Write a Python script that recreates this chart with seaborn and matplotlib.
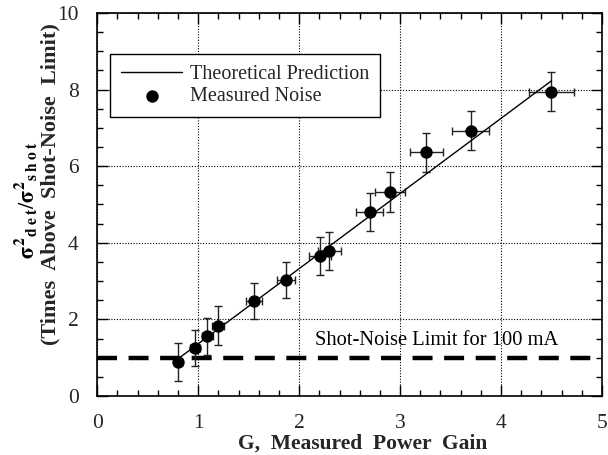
import matplotlib
matplotlib.use("Agg")
import matplotlib.pyplot as plt
import seaborn as sns
import pandas as pd
from matplotlib.ticker import MultipleLocator

# ---- data ----
gain = [0.80, 0.97, 1.09, 1.20, 1.55, 1.87, 2.21, 2.30, 2.70, 2.90, 3.26, 3.70, 4.50]
noise = [0.89, 1.25, 1.56, 1.84, 2.48, 3.03, 3.66, 3.78, 4.80, 5.33, 6.36, 6.93, 7.95]
gain_err = [0.04, 0.05, 0.055, 0.06, 0.078, 0.093, 0.11, 0.115, 0.135, 0.145, 0.163, 0.185, 0.225]
noise_err = [0.50, 0.48, 0.48, 0.50, 0.48, 0.48, 0.49, 0.50, 0.50, 0.52, 0.50, 0.50, 0.50]
theory_x = [0.80, 4.50]
theory_y = [0.97, 8.23]
shot_limit = 1.0

sns.set_theme(style="ticks")
plt.rcParams["font.family"] = ["Liberation Serif", "DejaVu Serif"]
plt.rcParams["mathtext.fontset"] = "stix"

fig = plt.figure(figsize=(6.08, 4.55), dpi=100)
ax = fig.add_axes([0.16, 0.1297, 0.83, 0.8417])

meas = pd.DataFrame({"G": gain, "N": noise})
theo = pd.DataFrame({"G": theory_x, "N": theory_y})

ax.axhline(shot_limit, color="black", lw=3.2, dashes=(4.5, 2.6), zorder=2)
ax.errorbar(gain, noise, xerr=gain_err, yerr=noise_err, fmt="none",
            ecolor="#222222", elinewidth=1.0, capsize=2.6, capthick=1.0, zorder=3)
sns.lineplot(data=theo, x="G", y="N", ax=ax, color="black", lw=1.0,
             label="Theoretical Prediction", zorder=4)
sns.scatterplot(data=meas, x="G", y="N", ax=ax, color="black", s=80,
                edgecolor="black", linewidth=0, label="Measured Noise", zorder=5)

ax.set_xlim(0, 5)
ax.set_ylim(0, 10)
ax.xaxis.set_major_locator(MultipleLocator(1))
ax.xaxis.set_minor_locator(MultipleLocator(0.2))
ax.yaxis.set_major_locator(MultipleLocator(2))
ax.yaxis.set_minor_locator(MultipleLocator(0.5))
ax.grid(True, which="major", color="black", ls=(0, (1, 1.5)), lw=0.8)
ax.tick_params(which="both", direction="in", top=True, right=True,
               color="black", labelsize=15.5, labelfontfamily="Liberation Serif")
ax.tick_params(axis="x", which="both", pad=13)
ax.tick_params(axis="y", which="both", pad=13.5)
ax.tick_params(which="major", length=8, width=1.0)
ax.tick_params(which="minor", length=4, width=1.0)
for s in ax.spines.values():
    s.set_color("black")
    s.set_linewidth(1.2)

ax.set_xlabel("G,  Measured  Power  Gain", fontsize=15.5, fontweight="bold")
ax.xaxis.set_label_coords(0.525, -0.097)

ax.set_ylabel("(Times  Above  Shot-Noise  Limit)", fontsize=16, fontweight="bold")
ax.yaxis.label.set_verticalalignment("center")
ax.yaxis.set_label_coords(-0.092, 0.553)
ax.text(-0.143, 0.512,
        r"$\mathbf{\sigma^2}_{\mathbf{d\;e\;t}}/\mathbf{\sigma^2}_{\mathbf{s\;h\;o\;t}}$",
        transform=ax.transAxes, rotation=90, ha="center", va="center",
        fontsize=16, color="black")

ax.text(2.16, 1.33, "Shot-Noise Limit for 100 mA", fontsize=14.8, color="black")

leg = ax.legend(loc="upper left", bbox_to_anchor=(0.026, 0.893), fontsize=14.5,
                frameon=True, fancybox=False, edgecolor="black", framealpha=1,
                handlelength=3.0, borderpad=0.55, labelspacing=0.15, handletextpad=0.4,
                borderaxespad=0)
leg.get_frame().set_linewidth(1.0)

fig.savefig("out.png", dpi=100)
